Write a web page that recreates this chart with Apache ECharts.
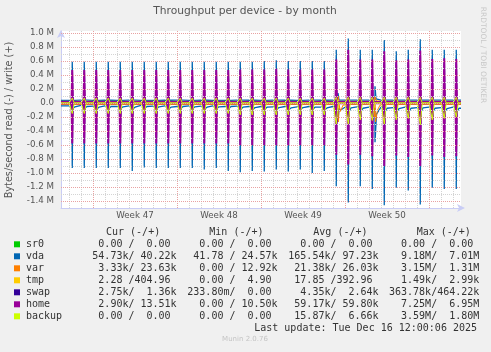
<!DOCTYPE html>
<html><head><meta charset="utf-8">
<script src="https://cdn.jsdelivr.net/npm/echarts@6/dist/echarts.min.js"></script>
<style>html,body{margin:0;padding:0;background:#f0f0f0}#c{width:491px;height:352px}</style>
</head><body><div id="c"></div>
<script>
// Time axis: hours relative to Sun 2025-11-16 00:00
const xMin = -64, xMax = 736;
const firstDay = -48;          // Fri Nov 14 00:00
const backupHour = 6.5;        // daily backup spike time (hour of day)
const weekCenters = [84, 252, 420, 588];
const weekLabels = ['Week 47', 'Week 48', 'Week 49', 'Week 50'];
const weekStarts = [0, 168, 336, 504, 672];

// values in M bytes/s, one per day (33 days)
const vdaWritePeak = [0.59,0.59,0.59,0.59,0.59,0.59,0.59,0.59,0.59,0.59,0.59,0.59,0.59,0.59,0.59,0.59,0.60,0.61,0.60,0.60,0.60,0.60,0.76,0.92,0.76,0.76,0.90,0.74,0.76,0.91,0.76,0.76,0.76];
const vdaReadPeak = [-0.93,-0.93,-0.93,-0.93,-0.93,-0.97,-0.92,-0.93,-0.93,-0.93,-0.93,-0.95,-0.93,-0.97,-0.99,-0.97,-0.98,-0.95,-0.98,-0.95,-1.00,-0.97,-1.19,-1.42,-1.19,-1.23,-1.46,-1.21,-1.25,-1.45,-1.21,-1.23,-1.23];
const homeWritePeak = [0.47,0.47,0.47,0.47,0.47,0.47,0.47,0.47,0.47,0.47,0.47,0.47,0.47,0.47,0.48,0.48,0.48,0.49,0.48,0.48,0.48,0.48,0.62,0.76,0.62,0.62,0.74,0.61,0.62,0.75,0.63,0.64,0.63];
const homeReadPeak = [-0.58,-0.58,-0.58,-0.58,-0.58,-0.58,-0.58,-0.58,-0.58,-0.58,-0.58,-0.58,-0.58,-0.58,-0.60,-0.60,-0.60,-0.60,-0.60,-0.60,-0.60,-0.60,-0.74,-0.88,-0.74,-0.76,-0.90,-0.75,-0.77,-0.90,-0.75,-0.77,-0.76];
const backupWritePeak = [0.07,0.07,0.07,0.07,0.07,0.07,0.07,0.07,0.07,0.07,0.07,0.07,0.07,0.07,0.07,0.07,0.07,0.07,0.07,0.07,0.07,0.07,0.08,0.08,0.08,0.08,0.08,0.08,0.08,0.08,0.08,0.08,0.08];
const backupReadPeak = [-0.15,-0.15,-0.15,-0.15,-0.15,-0.15,-0.15,-0.15,-0.15,-0.15,-0.15,-0.15,-0.15,-0.15,-0.17,-0.17,-0.17,-0.17,-0.17,-0.17,-0.17,-0.17,-0.30,-0.30,-0.24,-0.25,-0.30,-0.24,-0.22,-0.31,-0.24,-0.22,-0.20];
const vdaReadNight = [-0.040,-0.035,-0.045,-0.040,-0.050,-0.040,-0.035,-0.045,-0.040,-0.050,-0.040,-0.045,-0.040,-0.050,-0.045,-0.050,-0.050,-0.055,-0.050,-0.055,-0.050,-0.060,-0.050,-0.060,-0.055,-0.060,-0.060,-0.065,-0.060,-0.065,-0.060,-0.065,-0.060];
const vdaReadDay = [-0.055,-0.050,-0.060,-0.050,-0.055,-0.060,-0.050,-0.055,-0.060,-0.050,-0.055,-0.060,-0.055,-0.050,-0.060,-0.065,-0.060,-0.065,-0.070,-0.065,-0.060,-0.070,-0.075,-0.070,-0.075,-0.070,-0.075,-0.080,-0.075,-0.070,-0.075,-0.080,-0.075];
const vdaReadDip = [-0.080,-0.075,-0.085,-0.080,-0.080,-0.085,-0.075,-0.080,-0.085,-0.080,-0.080,-0.085,-0.080,-0.080,-0.090,-0.095,-0.090,-0.090,-0.095,-0.090,-0.090,-0.095,-0.130,-0.130,-0.125,-0.130,-0.135,-0.125,-0.130,-0.135,-0.130,-0.125,-0.130];
const vdaWriteBase = [0.038,0.040,0.037,0.039,0.038,0.040,0.038,0.037,0.039,0.040,0.038,0.039,0.037,0.038,0.040,0.039,0.038,0.040,0.039,0.038,0.040,0.039,0.041,0.040,0.042,0.040,0.041,0.040,0.042,0.041,0.040,0.041,0.040];
// [read, write] baselines
const sr0Base = [0, 0];
const varBase = [-0.020, 0.024];
const tmpBase = [-0.0005, 0.0004];
const swapBase = [-0.003, 0.0014];
const homeBase = [-0.003, 0.0135];
// extra events [hour, value]
const vdaWriteEvents = [[488,0.045],[490,0.14],[492,0.05],[562,0.05],[564,0.24],[566,0.06]];
const vdaReadEvents = [[488,-0.09],[490,-0.27],[493,-0.11],[562,-0.11],[564,-0.56],[567,-0.16]];
const varWriteEvents = [[488,0.03],[490,0.10],[493,0.03],[562,0.03],[564,0.09],[567,0.03]];
const varReadEvents = [[486,-0.03],[489,-0.20],[491,-0.27],[495,-0.12],[500,-0.03],[560,-0.03],[563,-0.20],[565,-0.27],[569,-0.10],[574,-0.03]];

// legend
const legendNames = ['sr0','vda','var','tmp','swap','home','backup'];
const legendColors = ['#00CC00','#0066B3','#FF8000','#FFCC00','#330099','#990099','#CCFF00'];
const curVals = ['  0.00 /  0.00 ',' 54.73k/ 40.22k','  3.33k/ 23.63k','  2.28 /404.96 ','  2.75k/  1.36k','  2.90k/ 13.51k','  0.00 /  0.00 '];
const minVals = ['  0.00 /  0.00 ',' 41.78 / 24.57k','  0.00 / 12.92k','  0.00 /  4.90 ','233.80m/  0.00 ','  0.00 / 10.50k','  0.00 /  0.00 '];
const avgVals = ['  0.00 /  0.00 ','165.54k/ 97.23k',' 21.38k/ 26.03k',' 17.85 /392.96 ','  4.35k/  2.64k',' 59.17k/ 59.80k',' 15.87k/  6.66k'];
const maxVals = ['  0.00 /  0.00 ','  9.18M/  7.01M','  3.15M/  1.31M','  1.49k/  2.99k','363.78k/464.22k','  7.25M/  6.95M','  3.59M/  1.80M'];
const headers = ['Cur (-/+)','Min (-/+)','Avg (-/+)','Max (-/+)'];

const days = vdaWritePeak.length;
const v = (a, k) => Array.isArray(a) ? a[k] : a;
function build(night, day, dip, peaks, halfW, events) {
  let pts = [[xMin, v(night, 0)]];
  for (let k = 0; k < days; k++) {
    const d = firstDay + 24 * k, t = d + backupHour;
    pts.push([d, v(night, k)]);
    if (peaks) {
      pts.push([t - halfW, v(night, k)], [t, peaks[k]], [t + halfW, v(dip, k)]);
    }
    pts.push([d + 12, v(day, k)]);
  }
  if (events) pts = pts.concat(events);
  pts.sort((a, b) => a[0] - b[0]);
  pts.push([xMax, pts[pts.length - 1][1]]);
  return pts;
}

function line(data, color, extra) {
  return Object.assign({
    type: 'line', data, showSymbol: false, symbol: 'none', animation: false, silent: true,
    lineStyle: { color, width: 1 }, z: 3
  }, extra || {});
}

const series = [];
// grid lines
const hLines = [];
for (let i = -14; i <= 9; i++) {
  const val = i / 10;
  hLines.push({ yAxis: val, lineStyle: { color: i % 2 === 0 ? '#e8a2a2' : '#d4d4d4', type: [1, 1], width: 1 } });
}
hLines.push({ yAxis: 1.0, lineStyle: { color: '#e8a2a2', type: [1, 1], width: 1 } });
const vLines = [];
for (let h = firstDay; h < xMax; h += 24) {
  const major = weekStarts.indexOf(h) >= 0;
  vLines.push({ xAxis: h, lineStyle: { color: major ? '#e8a2a2' : '#d4d4d4', type: [1, 1], width: 1 } });
}
series.push({
  type: 'line', data: [[xMin, 0]], showSymbol: false, silent: true, animation: false, z: 1,
  lineStyle: { width: 0, opacity: 0 },
  markLine: { silent: true, animation: false, symbol: ['none', 'none'], label: { show: false }, data: vLines.concat(hLines) }
});

series.push(line(build(sr0Base[0], sr0Base[0], sr0Base[0]), legendColors[0]));
series.push(line(build(sr0Base[1], sr0Base[1], sr0Base[1]), legendColors[0]));
series.push(line(build(vdaReadNight, vdaReadDay, vdaReadDip, vdaReadPeak, 1, vdaReadEvents), legendColors[1], { lineStyle: { color: legendColors[1], width: 1.3 } }));
series.push(line(build(vdaWriteBase, vdaWriteBase, vdaWriteBase, vdaWritePeak, 1, vdaWriteEvents), legendColors[1], { lineStyle: { color: legendColors[1], width: 1.3 } }));
series.push(line(build(varBase[0], varBase[0], varBase[0], null, 0, varReadEvents), legendColors[2]));
series.push(line(build(varBase[1], varBase[1], varBase[1], null, 0, varWriteEvents), legendColors[2]));
series.push(line(build(tmpBase[0], tmpBase[0], tmpBase[0]), legendColors[3]));
series.push(line(build(tmpBase[1], tmpBase[1], tmpBase[1]), legendColors[3]));
series.push(line(build(swapBase[0], swapBase[0], swapBase[0]), legendColors[4]));
series.push(line(build(swapBase[1], swapBase[1], swapBase[1]), legendColors[4]));
series.push(line(build(homeBase[0], homeBase[0], homeBase[0], homeReadPeak, 1.5), legendColors[5], { lineStyle: { color: legendColors[5], width: 2 } }));
series.push(line(build(homeBase[1], homeBase[1], homeBase[1], homeWritePeak, 1.5), legendColors[5], { lineStyle: { color: legendColors[5], width: 2 } }));
series.push(line(build(0, 0, 0, backupReadPeak, 4), legendColors[6], { areaStyle: { color: legendColors[6], opacity: 1 } }));
series.push(line(build(0, 0, 0, backupWritePeak, 4), legendColors[6], { areaStyle: { color: legendColors[6], opacity: 1 } }));

const axisColor = '#c9cdf5';
const mono = 'DejaVu Sans Mono';
const graphic = [];
function txt(x, y, text, opts) {
  graphic.push(Object.assign({ type: 'text', x, y, silent: true, style: Object.assign({ text, fill: '#333', font: '10px "' + mono + '"', align: 'left', verticalAlign: 'middle' }, opts && opts.style) }, opts && opts.el));
}
txt(245, 11, 'Throughput per device - by month', { style: { font: '10.7px "DejaVu Sans"', fill: '#555', align: 'center' } });
txt(9, 120, 'Bytes/second read (-) / write (+)', { style: { font: '9.7px "DejaVu Sans"', fill: '#555', align: 'center' }, el: { rotation: Math.PI / 2 } });
txt(483, 55, 'RRDTOOL / TOBI OETIKER', { style: { font: '7.5px "DejaVu Sans"', fill: '#c8c8c8', align: 'center' }, el: { rotation: -Math.PI / 2 } });
const headerX = [106, 209.3, 313.3, 416.7];
headers.forEach((h, i) => txt(headerX[i], 232.7, h));
const colX = [86.3, 187.3, 288.3, 389];
legendNames.forEach((n, i) => {
  const y = 244.3 + 12 * i;
  graphic.push({ type: 'rect', silent: true, shape: { x: 14, y: y - 3, width: 6, height: 6 }, style: { fill: legendColors[i] } });
  txt(26, y, n);
  [curVals, minVals, avgVals, maxVals].forEach((arr, j) => txt(colX[j], y, arr[i]));
});
txt(477, 328.3, 'Last update: Tue Dec 16 12:00:06 2025', { style: { align: 'right' } });
txt(245, 339.5, 'Munin 2.0.76', { style: { font: '7px "DejaVu Sans"', fill: '#c4c4c4', align: 'center' } });

const chart = echarts.init(document.getElementById('c'), null, { renderer: 'canvas' });
chart.setOption({
  backgroundColor: '#f0f0f0',
  animation: false,
  grid: { left: 61, top: 31, width: 400, height: 177, show: true, backgroundColor: '#ffffff', borderWidth: 0 },
  xAxis: {
    type: 'value', min: xMin, max: xMax,
    axisLine: { onZero: false, lineStyle: { color: axisColor, width: 1 }, symbol: ['none', 'arrow'], symbolSize: [6, 8], symbolOffset: [0, 4] },
    axisTick: { show: false }, splitLine: { show: false },
    axisLabel: {
      customValues: weekCenters,
      formatter: (val) => { const i = weekCenters.indexOf(Math.round(val)); return i >= 0 ? weekLabels[i] : ''; },
      color: '#555', fontSize: 8.7, fontFamily: 'DejaVu Sans', margin: 3
    }
  },
  yAxis: {
    type: 'value', min: -1.5, max: 1.0286, interval: 0.1,
    axisLine: { show: true, onZero: false, lineStyle: { color: axisColor, width: 1 }, symbol: ['none', 'arrow'], symbolSize: [6, 8], symbolOffset: [0, 1] },
    axisTick: { show: false }, splitLine: { show: false },
    axisLabel: {
      formatter: (val) => {
        const k = val * 10, r = Math.round(k);
        if (Math.abs(k - r) > 1e-4 || r % 2 !== 0 || r > 10) return '';
        if (r === 0) return '0.0';
        return (r / 10).toFixed(1) + ' M';
      },
      color: '#555', fontSize: 8.7, fontFamily: 'DejaVu Sans', margin: 7
    }
  },
  series,
  graphic
});
</script>
</body></html>
